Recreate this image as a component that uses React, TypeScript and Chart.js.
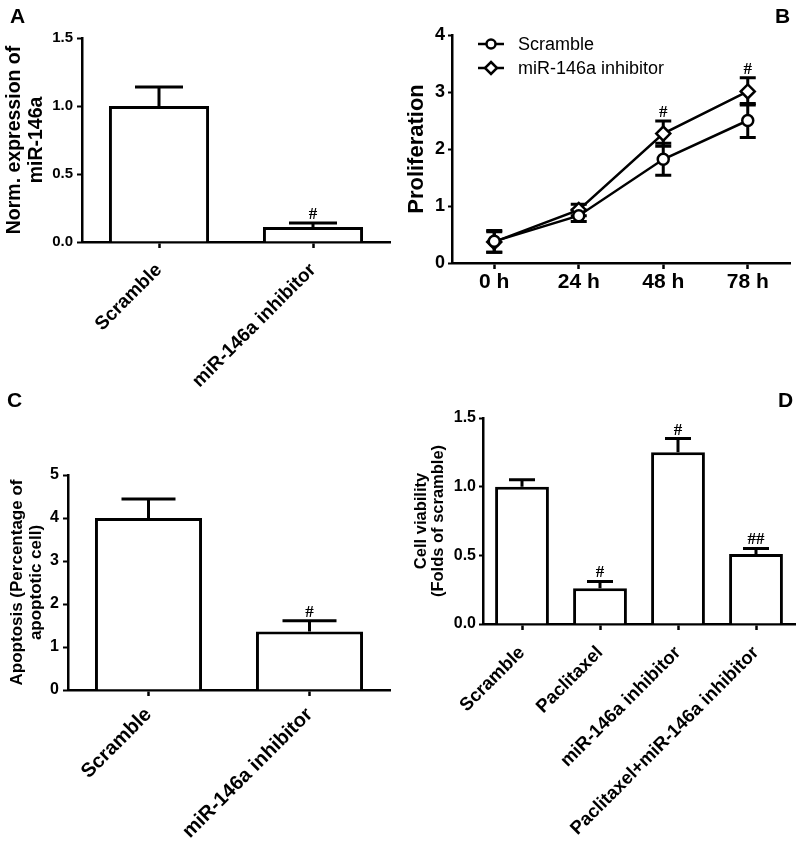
import React, { useEffect, useRef } from 'react';
import { Chart, registerables } from 'chart.js';

Chart.register(...registerables);

const SANS = '"Liberation Sans", Arial, Helvetica, sans-serif';
const SERIF = '"Liberation Serif", "Times New Roman", serif';

// ---------- Panel A ----------
const aCategories = ['Scramble', 'miR-146a inhibitor'];
const aValues = [1.0, 0.11];
const aErrors = [0.14, 0.03];
const aMarks = ['', '#'];
const aTickLabels = ['0.0', '0.5', '1.0', '1.5'];
const aTitle = ['Norm. expression of', 'miR-146a'];

// ---------- Panel B ----------
const bCategories = ['0 h', '24 h', '48 h', '78 h'];
const bSeriesNames = ['Scramble', 'miR-146a inhibitor'];
const bScramble = [0.38, 0.83, 1.82, 2.5];
const bScrambleErr = [0.19, 0.1, 0.28, 0.3];
const bInhibitor = [0.37, 0.93, 2.27, 3.01];
const bInhibitorErr = [0.18, 0.1, 0.22, 0.24];
const bMarks = ['', '', '#', '#'];
const bTickLabels = ['0', '1', '2', '3', '4'];
const bTitle = 'Proliferation';

// ---------- Panel C ----------
const cCategories = ['Scramble', 'miR-146a inhibitor'];
const cValues = [4.0, 1.36];
const cErrors = [0.44, 0.25];
const cMarks = ['', '#'];
const cTickLabels = ['0', '1', '2', '3', '4', '5'];
const cTitle = ['Apoptosis (Percentage of', 'apoptotic cell)'];

// ---------- Panel D ----------
const dCategories = ['Scramble', 'Paclitaxel', 'miR-146a inhibitor', 'Paclitaxel+miR-146a inhibitor'];
const dValues = [1.0, 0.26, 1.25, 0.51];
const dErrors = [0.05, 0.05, 0.1, 0.04];
const dMarks = ['', '#', '#', '##'];
const dTickLabels = ['0.0', '0.5', '1.0', '1.5'];
const dTitle = ['Cell viability', '(Folds of scramble)'];

const MARK_FONT = `bold 17px ${SERIF}`;

function barExtras(errors: number[], marks: string[], capHalf: number) {
  return {
    id: 'barExtras',
    afterDatasetsDraw(chart: any) {
      const meta = chart.getDatasetMeta(0);
      const y = chart.scales.y;
      const data = chart.data.datasets[0].data as number[];
      const ctx = chart.ctx;
      ctx.save();
      ctx.strokeStyle = '#000';
      ctx.fillStyle = '#000';
      ctx.lineWidth = 3;
      meta.data.forEach((el: any, i: number) => {
        const top = y.getPixelForValue(data[i] + errors[i]);
        ctx.beginPath();
        ctx.moveTo(el.x, el.y);
        ctx.lineTo(el.x, top);
        ctx.moveTo(el.x - capHalf, top);
        ctx.lineTo(el.x + capHalf, top);
        ctx.stroke();
        if (marks[i]) {
          ctx.font = MARK_FONT;
          ctx.textAlign = 'center';
          ctx.textBaseline = 'alphabetic';
          ctx.fillText(marks[i], el.x, top - 4);
        }
      });
      ctx.restore();
    },
  };
}

function barConfig(opts: {
  categories: string[];
  values: number[];
  errors: number[];
  marks: string[];
  max: number;
  step: number;
  tickLabels: string[];
  title: string[];
  titleSize: number;
  titleLine: number;
  titlePad: number;
  tickSize: number;
  tickLen: number;
  tickPad: number;
  xSize: number;
  padTop: number;
  padRight: number;
  yWidth: number;
  xHeight: number;
  barPct: number;
  capHalf: number;
  xPad: number;
}) {
  return {
    type: 'bar',
    data: {
      labels: opts.categories,
      datasets: [
        {
          data: opts.values,
          backgroundColor: '#ffffff',
          borderColor: '#000000',
          borderWidth: 3,
          borderSkipped: 'bottom',
          barPercentage: opts.barPct,
          categoryPercentage: 1,
        },
      ],
    },
    options: {
      responsive: false,
      animation: false,
      events: [],
      layout: { padding: { top: opts.padTop, right: opts.padRight, left: 0, bottom: 0 } },
      plugins: { legend: { display: false }, tooltip: { enabled: false } },
      scales: {
        x: {
          offset: true,
          grid: {
            display: true,
            offset: false,
            drawOnChartArea: false,
            drawTicks: true,
            tickLength: 6,
            tickWidth: 2.5,
            color: '#000',
          },
          border: { display: true, color: '#000', width: 2.5 },
          ticks: {
            autoSkip: false,
            minRotation: 45,
            maxRotation: 45,
            padding: opts.xPad,
            color: '#000',
            font: { family: SANS, size: opts.xSize, weight: 'bold' },
          },
          afterFit: (s: any) => {
            s.height = opts.xHeight;
          },
        },
        y: {
          min: 0,
          max: opts.max,
          grid: {
            display: true,
            drawOnChartArea: false,
            drawTicks: true,
            tickLength: opts.tickLen,
            tickWidth: 2,
            color: '#000',
          },
          border: { display: true, color: '#000', width: 2.5 },
          ticks: {
            stepSize: opts.step,
            padding: opts.tickPad,
            color: '#000',
            font: { family: SANS, size: opts.tickSize, weight: 'bold' },
            callback: (_v: any, i: number) => opts.tickLabels[i],
          },
          title: {
            display: true,
            text: opts.title,
            color: '#000',
            font: { family: SANS, size: opts.titleSize, weight: 'bold', lineHeight: opts.titleLine },
            padding: { top: opts.titlePad, bottom: 0 },
          },
          afterFit: (s: any) => {
            s.width = opts.yWidth;
          },
        },
      },
    },
    plugins: [barExtras(opts.errors, opts.marks, opts.capHalf)],
  };
}

function lineErrorPlugin() {
  return {
    id: 'lineErrors',
    beforeDatasetsDraw(chart: any) {
      const ctx = chart.ctx;
      const y = chart.scales.y;
      const errs = [bScrambleErr, bInhibitorErr];
      ctx.save();
      ctx.strokeStyle = '#000';
      ctx.lineWidth = 3;
      chart.data.datasets.forEach((ds: any, di: number) => {
        const meta = chart.getDatasetMeta(di);
        meta.data.forEach((pt: any, i: number) => {
          const v = ds.data[i];
          const hi = y.getPixelForValue(v + errs[di][i]);
          const lo = y.getPixelForValue(v - errs[di][i]);
          ctx.beginPath();
          ctx.moveTo(pt.x, hi);
          ctx.lineTo(pt.x, lo);
          ctx.moveTo(pt.x - 8, hi);
          ctx.lineTo(pt.x + 8, hi);
          ctx.moveTo(pt.x - 8, lo);
          ctx.lineTo(pt.x + 8, lo);
          ctx.stroke();
        });
      });
      ctx.restore();
    },
    afterDatasetsDraw(chart: any) {
      const ctx = chart.ctx;
      const y = chart.scales.y;
      const meta = chart.getDatasetMeta(1);
      ctx.save();
      ctx.fillStyle = '#000';
      ctx.font = MARK_FONT;
      ctx.textAlign = 'center';
      ctx.textBaseline = 'alphabetic';
      meta.data.forEach((pt: any, i: number) => {
        if (!bMarks[i]) return;
        const hi = y.getPixelForValue(bInhibitor[i] + bInhibitorErr[i]);
        ctx.fillText(bMarks[i], pt.x, hi - 4);
      });
      ctx.restore();
    },
  };
}

function legendPlugin() {
  return {
    id: 'insideLegend',
    afterDraw(chart: any) {
      const ctx = chart.ctx;
      const { left, top } = chart.chartArea;
      const styles = ['circle', 'rectRot'];
      const radii = [4.5, 6];
      ctx.save();
      bSeriesNames.forEach((name, i) => {
        const cy = top + 9 + i * 24;
        const x0 = left + 26;
        const x1 = left + 52;
        ctx.strokeStyle = '#000';
        ctx.lineWidth = 2.5;
        ctx.beginPath();
        ctx.moveTo(x0, cy);
        ctx.lineTo(x1, cy);
        ctx.stroke();
        ctx.fillStyle = '#fff';
        ctx.beginPath();
        const cx = (x0 + x1) / 2;
        if (styles[i] === 'circle') {
          ctx.arc(cx, cy, radii[i], 0, Math.PI * 2);
        } else {
          const r = radii[i];
          ctx.moveTo(cx, cy - r);
          ctx.lineTo(cx + r, cy);
          ctx.lineTo(cx, cy + r);
          ctx.lineTo(cx - r, cy);
          ctx.closePath();
        }
        ctx.fill();
        ctx.stroke();
        ctx.fillStyle = '#000';
        ctx.font = `18px ${SANS}`;
        ctx.textAlign = 'left';
        ctx.textBaseline = 'middle';
        ctx.fillText(name, left + 66, cy + 1);
      });
      ctx.restore();
    },
  };
}

function lineConfig() {
  const common = {
    borderColor: '#000',
    borderWidth: 2.5,
    pointBackgroundColor: '#fff',
    pointBorderColor: '#000',
    pointBorderWidth: 2.5,
    fill: false,
    tension: 0,
  };
  return {
    type: 'line',
    data: {
      labels: bCategories,
      datasets: [
        { ...common, label: bSeriesNames[0], data: bScramble, pointStyle: 'circle', pointRadius: 5.5 },
        { ...common, label: bSeriesNames[1], data: bInhibitor, pointStyle: 'rectRot', pointRadius: 7 },
      ],
    },
    options: {
      responsive: false,
      animation: false,
      events: [],
      layout: { padding: { top: 35, right: 10, left: 0, bottom: 0 } },
      plugins: { legend: { display: false }, tooltip: { enabled: false } },
      scales: {
        x: {
          offset: true,
          grid: {
            display: true,
            offset: false,
            drawOnChartArea: false,
            drawTicks: true,
            tickLength: 6,
            tickWidth: 2.5,
            color: '#000',
          },
          border: { display: true, color: '#000', width: 2.5 },
          ticks: {
            autoSkip: false,
            maxRotation: 0,
            padding: 1,
            color: '#000',
            font: { family: SANS, size: 21, weight: 'bold' },
          },
          afterFit: (s: any) => {
            s.height = 57;
          },
        },
        y: {
          min: 0,
          max: 4,
          grid: {
            display: true,
            drawOnChartArea: false,
            drawTicks: true,
            tickLength: 4,
            tickWidth: 2,
            color: '#000',
          },
          border: { display: true, color: '#000', width: 2.5 },
          ticks: {
            stepSize: 1,
            padding: 3,
            color: '#000',
            font: { family: SANS, size: 18, weight: 'bold' },
            callback: (_v: any, i: number) => bTickLabels[i],
          },
          title: {
            display: true,
            text: bTitle,
            color: '#000',
            font: { family: SANS, size: 22, weight: 'bold', lineHeight: 1.2 },
            padding: { top: 3.5, bottom: 0 },
          },
          afterFit: (s: any) => {
            s.width = 52;
          },
        },
      },
    },
    plugins: [lineErrorPlugin(), legendPlugin()],
  };
}

function ChartCanvas(props: { left: number; top: number; width: number; height: number; make: () => any }) {
  const ref = useRef<HTMLCanvasElement | null>(null);
  useEffect(() => {
    if (!ref.current) return;
    const chart = new Chart(ref.current, props.make());
    return () => chart.destroy();
  }, []);
  return (
    <canvas
      ref={ref}
      width={props.width}
      height={props.height}
      style={{
        position: 'absolute',
        left: props.left,
        top: props.top,
        width: props.width,
        height: props.height,
        display: 'block',
      }}
    />
  );
}

const letterStyle = (left: number, top: number): React.CSSProperties => ({
  position: 'absolute',
  left,
  top,
  fontFamily: SANS,
  fontWeight: 'bold',
  fontSize: 21,
  lineHeight: '21px',
  color: '#000',
});

export default function App() {
  return (
    <div
      style={{
        position: 'absolute',
        left: 0,
        top: 0,
        width: 800,
        height: 846,
        background: '#fff',
        overflow: 'hidden',
      }}
    >
      <ChartCanvas
        left={0}
        top={0}
        width={400}
        height={430}
        make={() =>
          barConfig({
            categories: aCategories,
            values: aValues,
            errors: aErrors,
            marks: aMarks,
            max: 1.5,
            step: 0.5,
            tickLabels: aTickLabels,
            title: aTitle,
            titleSize: 19.5,
            titleLine: 1.13,
            titlePad: 4,
            tickSize: 15,
            tickLen: 5,
            tickPad: 4,
            xSize: 19,
            padTop: 38,
            padRight: 10,
            yWidth: 82,
            xHeight: 188,
            barPct: 0.65,
            capHalf: 24,
            xPad: 11,
          })
        }
      />
      <ChartCanvas left={400} top={0} width={400} height={320} make={lineConfig} />
      <ChartCanvas
        left={0}
        top={430}
        width={400}
        height={416}
        make={() =>
          barConfig({
            categories: cCategories,
            values: cValues,
            errors: cErrors,
            marks: cMarks,
            max: 5,
            step: 1,
            tickLabels: cTickLabels,
            title: cTitle,
            titleSize: 17,
            titleLine: 1.1,
            titlePad: 8,
            tickSize: 16,
            tickLen: 5,
            tickPad: 4,
            xSize: 20,
            padTop: 45,
            padRight: 10,
            yWidth: 68,
            xHeight: 156,
            barPct: 0.665,
            capHalf: 27,
            xPad: 7,
          })
        }
      />
      <ChartCanvas
        left={400}
        top={400}
        width={400}
        height={446}
        make={() =>
          barConfig({
            categories: dCategories,
            values: dValues,
            errors: dErrors,
            marks: dMarks,
            max: 1.5,
            step: 0.5,
            tickLabels: dTickLabels,
            title: dTitle,
            titleSize: 16.5,
            titleLine: 1.03,
            titlePad: 13,
            tickSize: 16,
            tickLen: 4,
            tickPad: 3,
            xSize: 18.5,
            padTop: 18,
            padRight: 5,
            yWidth: 83,
            xHeight: 222,
            barPct: 0.69,
            capHalf: 13,
            xPad: 12,
          })
        }
      />
      <div style={letterStyle(10, 5)}>A</div>
      <div style={letterStyle(775, 5)}>B</div>
      <div style={letterStyle(7, 389)}>C</div>
      <div style={letterStyle(778, 389)}>D</div>
    </div>
  );
}
